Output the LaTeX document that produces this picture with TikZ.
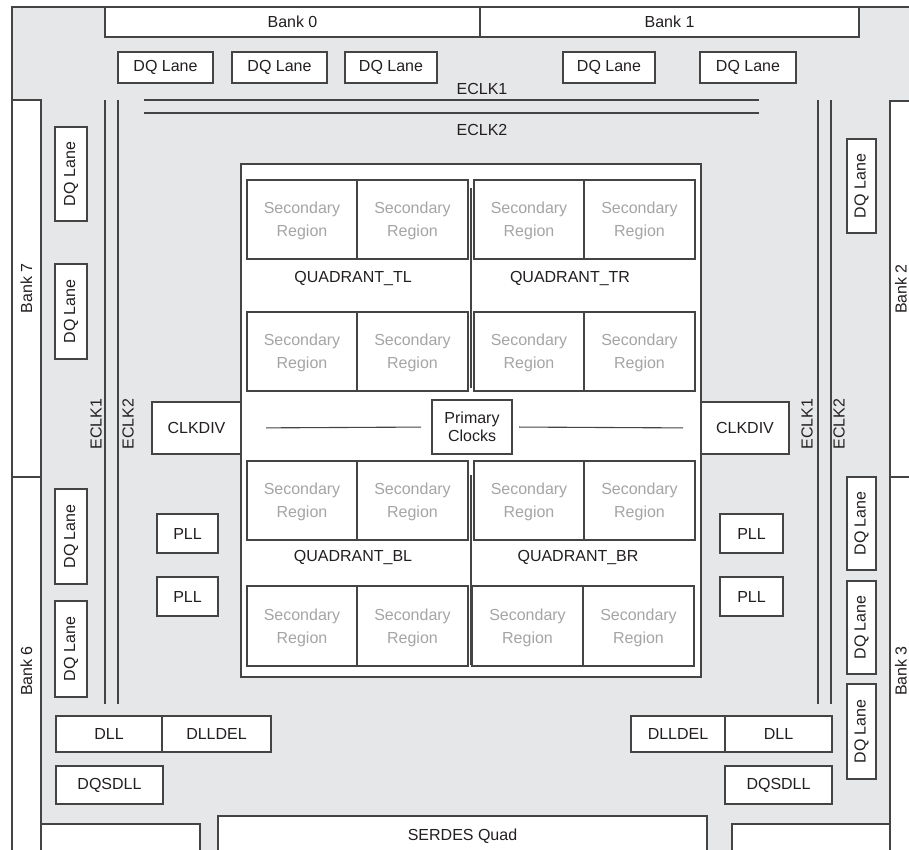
\documentclass[tikz,border=0pt]{standalone}
\usepackage{fontspec}
\setmainfont{Liberation Sans}
\definecolor{bg}{RGB}{230,231,232}
\definecolor{ln}{RGB}{68,68,68}
\definecolor{tx}{RGB}{35,31,32}
\definecolor{sec}{RGB}{165,165,165}
\tikzset{
 box/.style={draw=ln, line width=1.1pt, fill=white, inner sep=0pt, outer sep=0pt, text=tx, font=\fontsize{16}{18}\selectfont, align=center},
 lbl/.style={text=tx, font=\fontsize{16}{18}\selectfont, inner sep=0pt},
 wire/.style={draw=ln, line width=1.1pt},
 secbox/.style={box, text=sec, font=\fontsize{16}{23}\selectfont},
}
\newcommand\bx[7][]{\node[box,#1,minimum width={(#5-#3)*1pt},minimum height={(#6-#4)*1pt}] (#2) at ({(#3+#5)/2},{(#4+#6)/2}) {#7};}
\newcommand\vbx[7][]{\node[box,#1,rotate=90,minimum width={(#6-#4)*1pt},minimum height={(#5-#3)*1pt}] (#2) at ({(#3+#5)/2},{(#4+#6)/2}) {#7};}
\newcommand\sr[5]{\bx[secbox]{#1}{#2}{#3}{#4}{#5}{\rule{0pt}{15pt}Secondary\\Region}}
\begin{document}
\begin{tikzpicture}[x=1pt,y=-1pt]
\useasboundingbox (0,0) rectangle (909,849);
\clip (0,0) rectangle (909,849);
% background
\node[draw=ln, line width=1.1pt, fill=bg, inner sep=0pt, outer sep=0pt, minimum width=918pt, minimum height=863pt] (bgr) at ({(12+930)/2},{(7+870)/2}) {};
% banks
\bx{bank0}{105}{7}{480}{37}{Bank 0}
\bx{bank1}{480}{7}{859}{37}{Bank 1}
\vbx{bank7}{12}{100}{41}{477}{Bank 7}
\vbx{bank6}{12}{477}{41}{865}{Bank 6}
\vbx{bank2}{890}{101}{912}{477}{Bank 2}
\vbx{bank3}{890}{477}{912}{865}{Bank 3}
\bx{blw}{41}{824}{200}{870}{}
\bx{brw}{732}{824}{890}{870}{}
\bx{serdes}{218}{816}{707}{856}{SERDES Quad}
% top DQ lanes
\bx{dqt1}{118}{52}{213}{83}{DQ Lane}
\bx{dqt2}{232}{52}{327}{83}{DQ Lane}
\bx{dqt3}{345}{52}{437}{83}{DQ Lane}
\bx{dqt4}{563}{52}{655}{83}{DQ Lane}
\bx{dqt5}{700}{52}{796}{83}{DQ Lane}
% left DQ lanes
\vbx{dql1}{55}{127}{87}{221}{DQ Lane}
\vbx{dql2}{55}{264}{87}{359}{DQ Lane}
\vbx{dql3}{55}{489}{87}{584}{DQ Lane}
\vbx{dql4}{55}{601}{87}{697}{DQ Lane}
% right DQ lanes
\vbx{dqr1}{847}{139}{876}{233}{DQ Lane}
\vbx{dqr2}{847}{477}{876}{570}{DQ Lane}
\vbx{dqr3}{847}{581}{876}{674}{DQ Lane}
\vbx{dqr4}{847}{684}{876}{779}{DQ Lane}
% ECLK lines
\coordinate (h1a) at (144,100); \coordinate (h1b) at (759,100);
\coordinate (h2a) at (144,113); \coordinate (h2b) at (759,113);
\coordinate (l1a) at (105,100); \coordinate (l1b) at (105,704);
\coordinate (l2a) at (118,100); \coordinate (l2b) at (118,704);
\coordinate (r1a) at (818,100); \coordinate (r1b) at (818,704);
\coordinate (r2a) at (831,100); \coordinate (r2b) at (831,704);
\draw[wire] (h1a) -- (h1b);
\draw[wire] (h2a) -- (h2b);
\draw[wire] (l1a) -- (l1b);
\draw[wire] (l2a) -- (l2b);
\draw[wire] (r1a) -- (r1b);
\draw[wire] (r2a) -- (r2b);
\node[lbl] (te1) at (482,89) {ECLK1};
\node[lbl] (te2) at (482,130) {ECLK2};
\node[lbl,rotate=90] (le1) at (96,424) {ECLK1};
\node[lbl,rotate=90] (le2) at (128,424) {ECLK2};
\node[lbl,rotate=90] (re1) at (807,424) {ECLK1};
\node[lbl,rotate=90] (re2) at (839,424) {ECLK2};
% center block
\bx{core}{241}{164}{701}{677}{}
\bx{clkdivL}{152}{402}{241}{454}{CLKDIV}
\bx{clkdivR}{701}{402}{789}{454}{CLKDIV}
\bx{pc}{432}{400}{512}{454}{Primary\\Clocks}
\draw[wire, shorten <=25pt, shorten >=11pt] (clkdivL.east) -- (pc.west);
\draw[wire, shorten <=7pt, shorten >=18pt] (pc.east) -- (clkdivR.west);
% secondary regions
\sr{tl1}{247}{180}{357}{259}
\sr{tl2}{357}{180}{468}{259}
\sr{tl3}{247}{312}{357}{391}
\sr{tl4}{357}{312}{468}{391}
\sr{tr1}{474}{180}{584}{259}
\sr{tr2}{584}{180}{695}{259}
\sr{tr3}{474}{312}{584}{391}
\sr{tr4}{584}{312}{695}{391}
\sr{bl1}{247}{461}{357}{540}
\sr{bl2}{357}{461}{468}{540}
\sr{bl3}{247}{586}{357}{666}
\sr{bl4}{357}{586}{468}{666}
\sr{br1}{474}{461}{584}{540}
\sr{br2}{584}{461}{695}{540}
\sr{br3}{472}{586}{583}{666}
\sr{br4}{583}{586}{694}{666}
\coordinate (d1a) at (471,188); \coordinate (d1b) at (471,388);
\coordinate (d2a) at (471,475); \coordinate (d2b) at (471,665);
\draw[wire] (d1a) -- (d1b);
\draw[wire] (d2a) -- (d2b);
\node[lbl] (qtl) at (353,278) {QUADRANT\_TL};
\node[lbl] (qtr) at (570,278) {QUADRANT\_TR};
\node[lbl] (qbl) at (353,557) {QUADRANT\_BL};
\node[lbl] (qbr) at (578,557) {QUADRANT\_BR};
% PLLs
\bx{pllL1}{157}{514}{218}{553}{PLL}
\bx{pllL2}{157}{577}{218}{616}{PLL}
\bx{pllR1}{720}{514}{783}{553}{PLL}
\bx{pllR2}{720}{577}{783}{616}{PLL}
% DLLs
\bx{dllL}{56}{716}{162}{752}{DLL}
\bx{dlldelL}{162}{716}{271}{752}{DLLDEL}
\bx{dqsdllL}{56}{766}{163}{804}{DQSDLL}
\bx{dlldelR}{631}{716}{725}{752}{DLLDEL}
\bx{dllR}{725}{716}{832}{752}{DLL}
\bx{dqsdllR}{725}{766}{832}{804}{DQSDLL}
\end{tikzpicture}
\end{document}
